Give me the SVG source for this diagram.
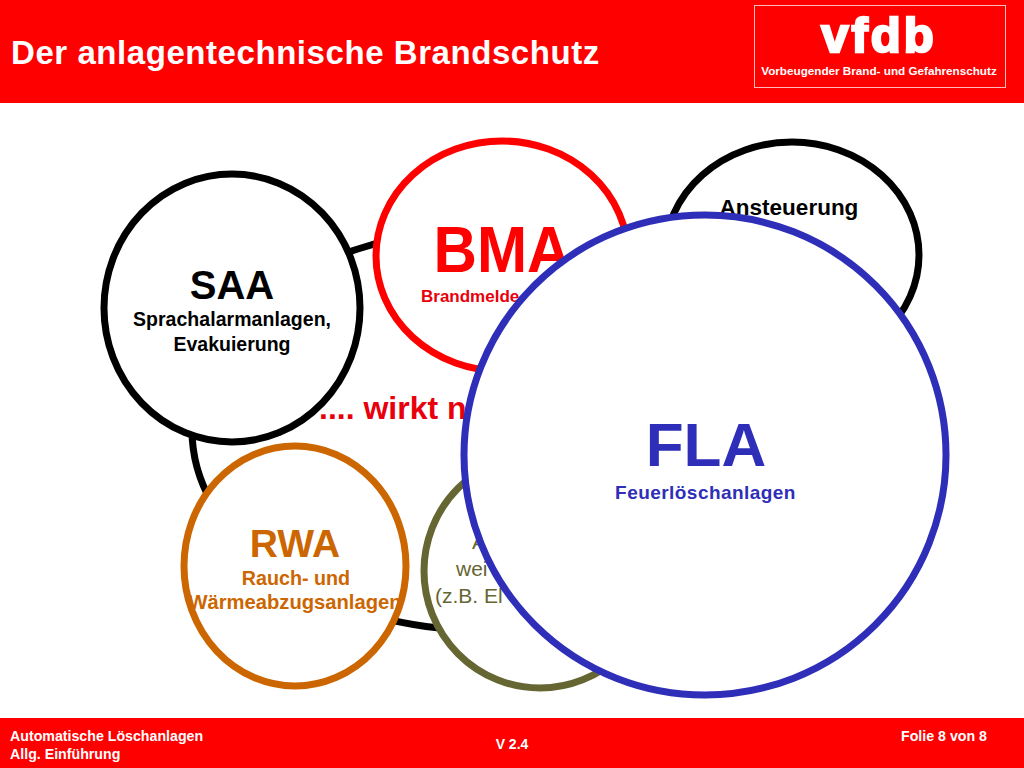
<svg xmlns="http://www.w3.org/2000/svg" width="1024" height="768" viewBox="0 0 1024 768">
<style>
text{font-family:"Liberation Sans",Arial,sans-serif;font-weight:bold;text-anchor:middle}
.n{fill:#fff;stroke-width:7}
.w{fill:#fff}
.l{text-anchor:start}
</style>
<rect width="1024" height="768" fill="#fff"/>
<g id="header">
<rect width="1024" height="103" fill="#f00"/>
<text class="w l" x="11" y="64" font-size="33" letter-spacing=".56">Der anlagentechnische Brandschutz</text>
<rect x="754.500" y="5.500" width="251" height="82" fill="none" stroke="#fbb" stroke-width="1"/>
<text class="w" x="879" y="52" font-size="49" stroke="#fff" stroke-width="2.500" letter-spacing="3">vfdb</text>
<text class="w" x="879" y="75" font-size="11.700">Vorbeugender Brand- und Gefahrenschutz</text>
</g>
<g id="connectors">
<ellipse cx="480" cy="430" rx="288" ry="200" fill="none" stroke="#000" stroke-width="7"/>
</g>
<text id="wirkt" class="l" x="319" y="419" font-size="32" fill="#e8000d">.... wirkt n</text>
<g id="bma">
<ellipse class="n" cx="502" cy="256" rx="126" ry="115" stroke="#f00"/>
<text x="502" y="272" font-size="65" fill="#f00" textLength="137" lengthAdjust="spacingAndGlyphs">BMA</text>
<text class="l" x="421" y="302" font-size="17" fill="#e8000d">Brandmelde</text>
</g>
<g id="ansteuerung">
<ellipse class="n" cx="792" cy="255" rx="127" ry="113" stroke="#000"/>
<text x="789" y="215" font-size="22.500">Ansteuerung</text>
</g>
<g id="saa">
<ellipse class="n" cx="232" cy="308" rx="128" ry="134" stroke="#000"/>
<text x="232" y="299" font-size="40">SAA</text>
<text x="232" y="326" font-size="19.500" letter-spacing=".05">Sprachalarmanlagen,</text>
<text x="232" y="351" font-size="19.500">Evakuierung</text>
</g>
<g id="rwa">
<ellipse class="n" cx="295" cy="566" rx="111" ry="120" stroke="#c60"/>
<text x="295" y="557" font-size="39" fill="#c60">RWA</text>
<text x="296" y="585" font-size="19.700" fill="#c60">Rauch- und</text>
<text x="295" y="609" font-size="20.200" fill="#c60">Wärmeabzugsanlagen</text>
</g>
<g id="weitere">
<ellipse class="n" cx="540" cy="571" rx="116" ry="117" stroke="#663"/>
<text class="l" x="472" y="549" font-size="21" fill="#663" style="font-weight:normal">A</text>
<text class="l" x="456" y="576" font-size="21" fill="#663" style="font-weight:normal">wei</text>
<text class="l" x="435" y="603" font-size="21" fill="#663" style="font-weight:normal">(z.B. El</text>
</g>
<g id="fla">
<ellipse class="n" cx="705" cy="455" rx="241" ry="240" stroke="#2e2eb8"/>
<text x="706" y="466" font-size="62" fill="#2e2eb8">FLA</text>
<text x="705.500" y="499" font-size="19" letter-spacing=".45" fill="#2e2eb8">Feuerlöschanlagen</text>
</g>
<g id="footer">
<rect y="718" width="1024" height="50" fill="#f00"/>
<text class="w l" x="10" y="741" font-size="14.200">Automatische Löschanlagen</text>
<text class="w l" x="10" y="759" font-size="14.200">Allg. Einführung</text>
<text class="w" x="512" y="749" font-size="14">V 2.4</text>
<text class="w" x="944" y="741" font-size="14.200">Folie 8 von 8</text>
</g>
</svg>
